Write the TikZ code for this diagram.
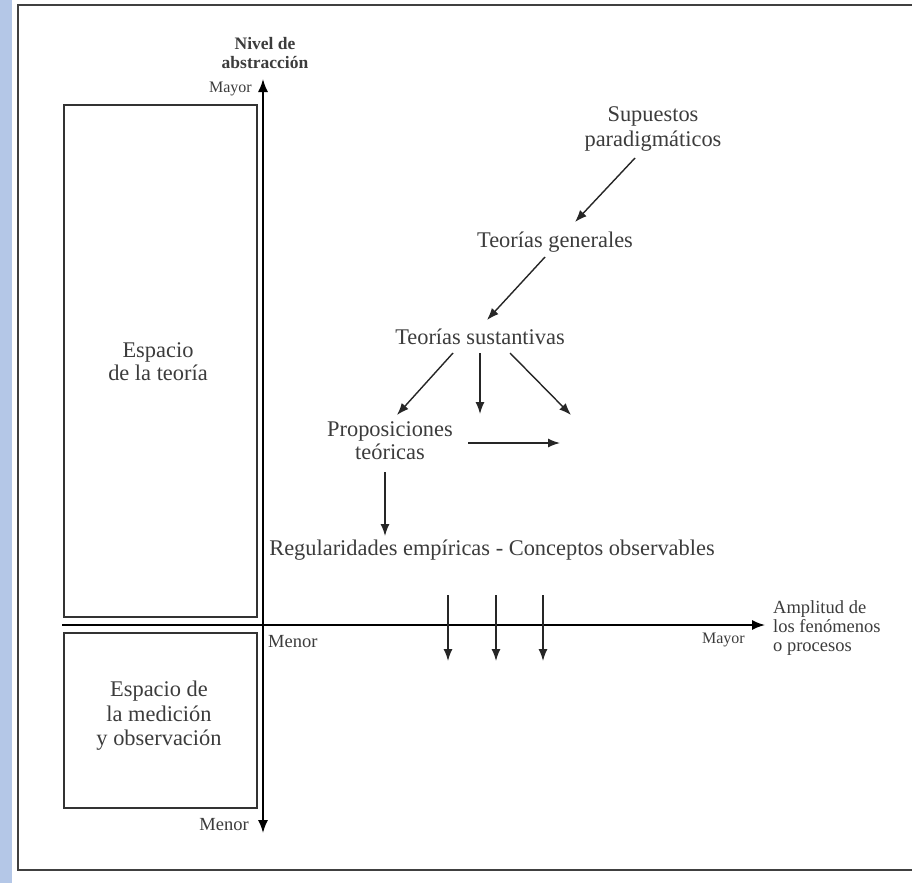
\documentclass[tikz,border=0pt]{standalone}
\usepackage{fontspec}
\setmainfont{Liberation Serif}
\usetikzlibrary{arrows.meta}
\definecolor{stripblue}{RGB}{180,199,231}
\definecolor{txtgray}{RGB}{60,60,60}
\tikzset{
  lbl/.style={text=txtgray, font=\fontsize{22.4}{24}\selectfont, inner sep=0pt, align=center},
  small/.style={text=txtgray, font=\fontsize{16}{17}\selectfont, inner sep=0pt, align=center},
  arr/.style={draw=black!85, line width=1.4pt, -{Latex[length=12pt,width=9pt]}},
  axis/.style={draw=black, line width=1.6pt, -{Latex[length=13pt,width=10pt]}},
  frame/.style={draw=black!75, line width=1.8pt},
  boxst/.style={draw=black!80, line width=1.5pt}
}
\begin{document}
\begin{tikzpicture}[x=1pt,y=-1pt]
\useasboundingbox (0,0) rectangle (912,883);
\fill[white] (0,0) rectangle (912,883);
\fill[stripblue] (0,0) rectangle (12,883);
% frame (right side beyond image)
\draw[frame] (930,5) -- (18,5) -- (18,870) -- (930,870);
% boxes
\draw[boxst] (64,105) rectangle (257,617);
\draw[boxst] (64,633) rectangle (257,808);
\node[lbl, font=\fontsize{22.4}{23}\selectfont] (teo) at (158,362) {Espacio\\de la teoría};
\node[lbl, font=\fontsize{22.4}{24.5}\selectfont] (med) at (159,716) {Espacio de\\la medición\\y observación};
% axes
\coordinate (vtop) at (263,79);
\coordinate (vbot) at (263,833);
\coordinate (vmid) at (263,500);
\coordinate (hleft) at (62,625);
\coordinate (hmid) at (300,625);
\coordinate (hright) at (765,625);
\draw[axis] (vmid) -- (vtop);
\draw[axis] (vmid) -- (vbot);
\draw[axis, -] (hleft) -- (hmid);
\draw[axis] (hmid) -- (hright);
\node[small, font=\fontsize{17.5}{19.5}\selectfont\bfseries] (nivel) at (265,53) {Nivel de\\abstracción};
\node[small, anchor=east] (mayv) at (252,89) {Mayor};
\node[small, anchor=east, font=\fontsize{18.5}{17}\selectfont] (menv) at (249,825) {Menor};
\node[small, anchor=west, font=\fontsize{18.5}{17}\selectfont] (menh) at (268,642) {Menor};
\node[small, anchor=east] (mayh) at (745,640) {Mayor};
\node[small, anchor=west, align=left, font=\fontsize{18.5}{19}\selectfont] (ampl) at (773,628) {Amplitud de\\los fenómenos\\o procesos};
% main labels
\node[lbl, font=\fontsize{22.4}{25}\selectfont] (sup) at (653,129) {Supuestos\\paradigmáticos};
\node[lbl] (gen) at (555,242) {Teorías generales};
\node[lbl] (sus) at (480,337) {Teorías sustantivas};
\node[lbl, font=\fontsize{22.4}{23}\selectfont] (prop) at (390,441) {Proposiciones\\teóricas};
\node[lbl] (reg) at (492,550) {Regularidades empíricas - Conceptos observables};
% arrow end points
\coordinate (a1s) at (635,158); \coordinate (a1e) at (575,222);
\coordinate (a2s) at (545,257); \coordinate (a2e) at (487,320);
\coordinate (a3s) at (453,353); \coordinate (a3e) at (397,415);
\coordinate (a4s) at (480,353); \coordinate (a4e) at (480,414);
\coordinate (a5s) at (510,353); \coordinate (a5e) at (571,415);
\coordinate (a6s) at (468,443); \coordinate (a6e) at (560,443);
\coordinate (a7s) at (385,472); \coordinate (a7e) at (385,536);
\coordinate (b1s) at (448,595); \coordinate (b1e) at (448,661);
\coordinate (b2s) at (496,595); \coordinate (b2e) at (496,661);
\coordinate (b3s) at (543,595); \coordinate (b3e) at (543,661);
\draw[arr] (a1s) -- (a1e);
\draw[arr] (a2s) -- (a2e);
\draw[arr] (a3s) -- (a3e);
\draw[arr] (a4s) -- (a4e);
\draw[arr] (a5s) -- (a5e);
\draw[arr] (a6s) -- (a6e);
\draw[arr] (a7s) -- (a7e);
\draw[arr] (b1s) -- (b1e);
\draw[arr] (b2s) -- (b2e);
\draw[arr] (b3s) -- (b3e);
\end{tikzpicture}
\end{document}
